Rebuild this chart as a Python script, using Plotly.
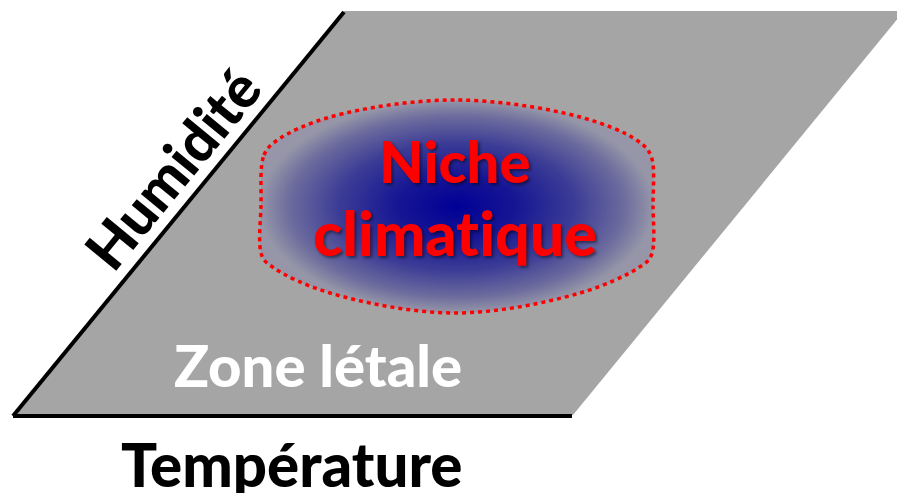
"""Niche climatique diagram rebuilt with Plotly."""
import plotly.graph_objects as go

W, H = 897, 493

# plane (pixel space, y grows downwards)
plane_x = [13, 344, 904, 573, 13]
plane_y = [415, 11, 11, 415, 415]

hum_axis_x = [13, 344]
hum_axis_y = [416, 12]
temp_axis_x = [13, 572]
temp_axis_y = [416, 416]

# outline of the niche blob (spline through these anchors)
niche_x = [261, 264, 276, 330, 455, 580, 638, 651, 653, 651, 638, 580, 455, 330, 274, 262, 261]
niche_y = [205, 155, 141, 117, 100, 117, 141, 156, 205, 256, 268, 293, 313, 293, 268, 256, 205]

ZWNJ = "\u200c"  # keeps "ti" from turning into a ligature
label_text = ["Niche", f"climat{ZWNJ}ique", f"Zone lét{ZWNJ}ale", "Température", "Humidité"]

GRAY = "#a5a5a5"
FONT = "Lato"

fig = go.Figure()

fig.add_trace(
    go.Scatter(
        x=plane_x,
        y=plane_y,
        mode="lines",
        fill="toself",
        fillcolor=GRAY,
        line=dict(width=0, color=GRAY),
        hoverinfo="skip",
    )
)

fig.add_trace(
    go.Scatter(
        x=niche_x,
        y=niche_y,
        mode="lines",
        fill="toself",
        fillgradient=dict(
            type="radial",
            colorscale=[
                [0, "rgb(0,0,150)"],
                [0.3, "rgb(22,22,148)"],
                [0.6, "rgb(60,60,150)"],
                [0.85, "rgb(108,108,158)"],
                [1, "rgb(150,150,168)"],
            ],
        ),
        line=dict(color="#ff0000", width=3.5, dash="4px,4px", shape="spline"),
        hoverinfo="skip",
    )
)

for xs, ys in [(hum_axis_x, hum_axis_y), (temp_axis_x, temp_axis_y)]:
    fig.add_trace(
        go.Scatter(x=xs, y=ys, mode="lines", line=dict(color="black", width=4), hoverinfo="skip")
    )

red_shadow = "2px 2px 3px rgba(0,0,0,0.45)"
labels = [
    dict(x=455, y=160, size=58, color="#ff0000", angle=0, shadow=red_shadow),
    dict(x=455, y=232, size=61, color="#ff0000", angle=0, shadow=red_shadow),
    dict(x=318, y=364, size=58, color="white", angle=0, shadow="none"),
    dict(x=292, y=464, size=60, color="black", angle=0, shadow="none"),
    dict(x=172, y=168, size=57, color="black", angle=-50.6, shadow="none"),
]
for text, lab in zip(label_text, labels):
    fig.add_annotation(
        x=lab["x"],
        y=lab["y"],
        text=text,
        showarrow=False,
        textangle=lab["angle"],
        font=dict(
            family=FONT,
            size=lab["size"],
            color=lab["color"],
            shadow=lab["shadow"],
            weight=900,
        ),
        xanchor="center",
        yanchor="middle",
    )

fig.update_layout(
    width=W,
    height=H,
    margin=dict(l=0, r=0, t=0, b=0),
    paper_bgcolor="white",
    plot_bgcolor="white",
    showlegend=False,
    xaxis=dict(range=[0, W], visible=False, fixedrange=True),
    yaxis=dict(range=[H, 0], visible=False, fixedrange=True),
)

fig.write_html(
    "out.html",
    config={"displayModeBar": False},
    post_script="document.body.style.margin='0';",
)
